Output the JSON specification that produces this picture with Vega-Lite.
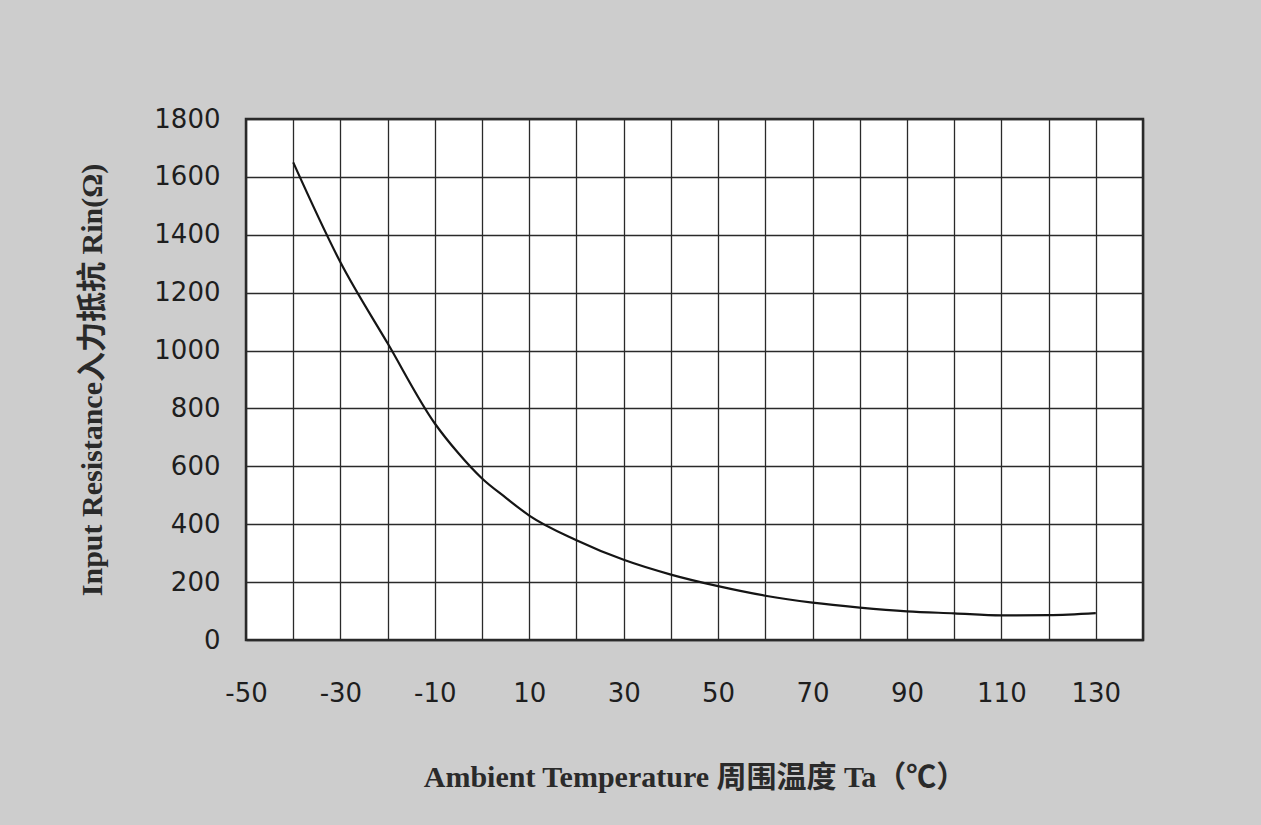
{
  "$schema": "https://vega.github.io/schema/vega-lite/v6.json",
  "autosize": {"type": "none"},
  "padding": {"left": 246, "top": 119, "right": 118, "bottom": 185},
  "width": 897,
  "height": 521,
  "background": "#cdcdcd",
  "config": {
    "view": {"fill": "#ffffff", "stroke": "#2a2a2a", "strokeWidth": 2.5},
    "axis": {
      "grid": true, "gridColor": "#2a2a2a", "gridWidth": 1.3, "gridOpacity": 1,
      "ticks": false, "domain": false, "labelFlush": false, "labelOverlap": false,
      "labelFont": "DejaVu Sans", "labelFontSize": 26, "labelColor": "#1e1e1e",
      "titleFont": "Liberation Serif, Noto Sans CJK SC", "titleFontWeight": "bold",
      "titleFontSize": 30, "titleColor": "#2a2a2a"
    }
  },
  "data": {"values": [
    {"T": -40, "R": 1650},
    {"T": -30, "R": 1305},
    {"T": -20, "R": 1025},
    {"T": -10, "R": 748},
    {"T": -5, "R": 645},
    {"T": 0, "R": 558},
    {"T": 5, "R": 492},
    {"T": 10, "R": 430},
    {"T": 20, "R": 345},
    {"T": 30, "R": 277},
    {"T": 40, "R": 226},
    {"T": 50, "R": 186},
    {"T": 60, "R": 153},
    {"T": 70, "R": 129},
    {"T": 80, "R": 112},
    {"T": 90, "R": 99},
    {"T": 100, "R": 92},
    {"T": 110, "R": 85},
    {"T": 120, "R": 86},
    {"T": 130, "R": 93}
  ]},
  "mark": {"type": "line", "color": "#151515", "strokeWidth": 2.2, "interpolate": "monotone"},
  "encoding": {
    "x": {
      "field": "T", "type": "quantitative",
      "scale": {"domain": [-50, 140], "nice": false, "zero": false},
      "axis": {
        "values": [-50, -40, -30, -20, -10, 0, 10, 20, 30, 40, 50, 60, 70, 80, 90, 100, 110, 120, 130, 140],
        "labelExpr": "((datum.value + 50) % 20 == 0 && datum.value <= 130) ? ('' + datum.value) : ''",
        "labelPadding": 40, "labelBaseline": "top",
        "title": "Ambient Temperature  周围温度  Ta（℃）",
        "titlePadding": 56
      }
    },
    "y": {
      "field": "R", "type": "quantitative",
      "scale": {"domain": [0, 1800], "nice": false},
      "axis": {
        "values": [0, 200, 400, 600, 800, 1000, 1200, 1400, 1600, 1800],
        "labelExpr": "'' + datum.value",
        "labelPadding": 26,
        "title": "Input Resistance入力抵抗 Rin(Ω)",
        "titlePadding": 46
      }
    }
  }
}
